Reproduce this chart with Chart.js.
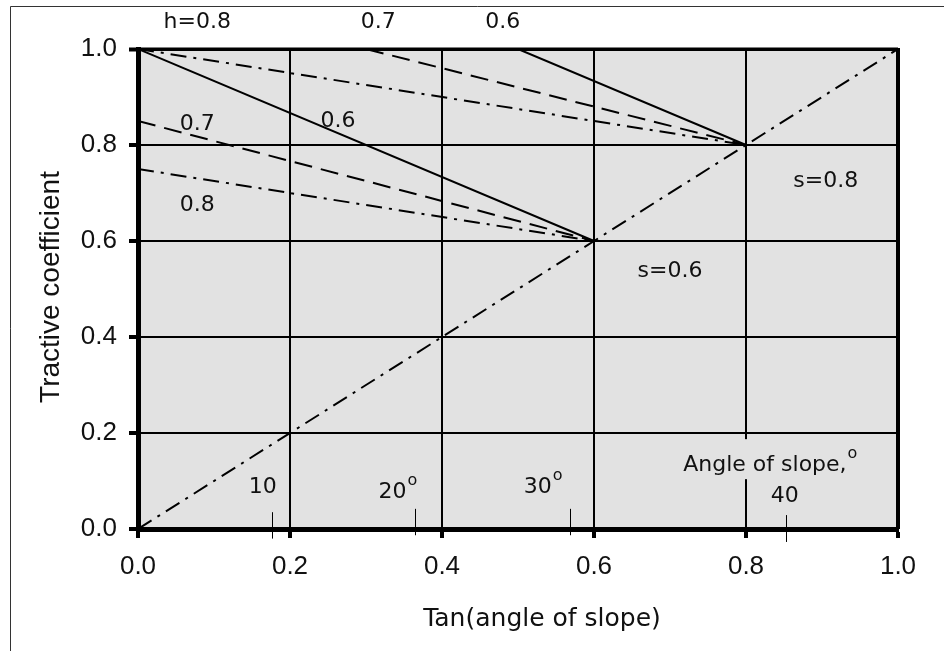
<!DOCTYPE html>
<html>
<head>
<meta charset="utf-8">
<script src="https://cdn.jsdelivr.net/npm/chart.js@4.4.1/dist/chart.umd.min.js"></script>
<style>
  body { margin: 0; background: #fff; }
  #chart { display: block; }
</style>
</head>
<body>
<canvas id="chart" width="944" height="651"></canvas>
<script>
"use strict";

// axis ticks
var xTicks = [0, 0.2, 0.4, 0.6, 0.8, 1.0];
var yTicks = [0, 0.2, 0.4, 0.6, 0.8, 1.0];

// s = tan(angle) diagonal
var diagX = [0, 1];
var diagY = [0, 1];

// lines meeting at s=0.8
var s8SolidX = [0.5, 0.8];
var s8SolidY = [1.0, 0.8];
var s8DashX = [0.3, 0.8];
var s8DashY = [1.0, 0.8];
var s8DashDotX = [0, 0.8];
var s8DashDotY = [1.0, 0.8];

// lines meeting at s=0.6
var s6SolidX = [0, 0.6];
var s6SolidY = [1.0, 0.6];
var s6DashX = [0, 0.6];
var s6DashY = [0.85, 0.6];
var s6DashDotX = [0, 0.6];
var s6DashDotY = [0.75, 0.6];

// angle of slope marks (degrees) and where they sit on the tan axis
var angleDeg = [10, 20, 30, 40];
var angleTan = [0.176, 0.364, 0.568, 0.853];
var angleLow = [-0.02, -0.013, -0.013, -0.027];
var angleHigh = [0.035, 0.042, 0.042, 0.029];

function pts(xs, ys) {
    return xs.map(function(x, i) { return { x: x, y: ys[i] }; });
}

var DASH = [18, 9];
var DASHDOT = [16, 7, 3, 7];

function line(xs, ys, dash) {
    return {
        data: pts(xs, ys),
        showLine: true,
        borderColor: '#000',
        borderWidth: 2,
        borderDash: dash,
        pointRadius: 0,
        fill: false
    };
}

// text placed in data coordinates
var notes = [
    { t: 'h=0.8', x: 0.078, y: 1.056 },
    { t: '0.7', x: 0.316, y: 1.056 },
    { t: '0.6', x: 0.48, y: 1.056 },
    { t: '0.7', x: 0.078, y: 0.844 },
    { t: '0.6', x: 0.263, y: 0.85 },
    { t: '0.8', x: 0.078, y: 0.675 },
    { t: 's=0.8', x: 0.905, y: 0.725 },
    { t: 's=0.6', x: 0.70, y: 0.5375 },
    { t: String(angleDeg[0]), x: 0.164, y: 0.0875 },
    { t: String(angleDeg[1]), x: 0.342, y: 0.077, sup: true },
    { t: String(angleDeg[2]), x: 0.533, y: 0.0875, sup: true },
    { t: 'Angle of slope,', x: 0.832, y: 0.133, sup: true, box: true },
    { t: String(angleDeg[3]), x: 0.851, y: 0.069 }
];

var PLOT_BG = '#e2e2e2';

var backdrop = {
    id: 'backdrop',
    beforeDraw: function(chart) {
        var ctx = chart.ctx, a = chart.chartArea;
        ctx.save();
        ctx.fillStyle = '#fff';
        ctx.fillRect(0, 0, chart.width, chart.height);
        ctx.fillStyle = PLOT_BG;
        ctx.fillRect(a.left, a.top, a.right - a.left, a.bottom - a.top);
        // outer frame
        ctx.strokeStyle = '#333';
        ctx.lineWidth = 1;
        ctx.beginPath();
        ctx.moveTo(10.5, chart.height);
        ctx.lineTo(10.5, 6.5);
        ctx.lineTo(chart.width, 6.5);
        ctx.stroke();
        ctx.restore();
    }
};

var overlay = {
    id: 'overlay',
    afterDraw: function(chart) {
        var ctx = chart.ctx, a = chart.chartArea;
        var xs = chart.scales.x, ys = chart.scales.y;
        ctx.save();

        // top and right frame of the plot
        ctx.strokeStyle = '#000';
        ctx.lineWidth = 3;
        ctx.beginPath();
        ctx.moveTo(a.left, a.top);
        ctx.lineTo(a.right, a.top);
        ctx.stroke();
        ctx.lineWidth = 4;
        ctx.beginPath();
        ctx.moveTo(a.right, a.top - 1);
        ctx.lineTo(a.right, a.bottom);
        ctx.stroke();

        // angle of slope marks
        ctx.lineWidth = 1;
        angleTan.forEach(function(v, i) {
            var px = Math.round(xs.getPixelForValue(v)) + 0.5;
            ctx.beginPath();
            ctx.moveTo(px, ys.getPixelForValue(angleHigh[i]));
            ctx.lineTo(px, ys.getPixelForValue(angleLow[i]));
            ctx.stroke();
        });

        // annotations
        ctx.textBaseline = 'middle';
        notes.forEach(function(n) {
            var cx = xs.getPixelForValue(n.x), cy = ys.getPixelForValue(n.y);
            ctx.font = '22px "DejaVu Sans"';
            var w = ctx.measureText(n.t).width;
            var ws = 0;
            if (n.sup) {
                ctx.font = '16px "DejaVu Sans"';
                ws = ctx.measureText('o').width + 1;
            }
            var x0 = cx - (w + ws) / 2;
            if (n.box) {
                ctx.fillStyle = PLOT_BG;
                ctx.fillRect(x0 - 4, cy - 26, w + ws + 8, 40);
            }
            ctx.fillStyle = '#111';
            ctx.textAlign = 'left';
            ctx.font = '22px "DejaVu Sans"';
            ctx.fillText(n.t, x0, cy);
            if (n.sup) {
                ctx.font = '16px "DejaVu Sans"';
                ctx.fillText('o', x0 + w + 1, cy - 11);
            }
        });

        // axis titles
        ctx.fillStyle = '#111';
        ctx.textAlign = 'center';
        ctx.font = '25px "DejaVu Sans"';
        ctx.fillText('Tan(angle of slope)', 542, 619);
        ctx.translate(51, 287);
        ctx.rotate(-Math.PI / 2);
        ctx.font = '28px "Liberation Sans"';
        ctx.fillText('Tractive coefficient', 0, 0);
        ctx.restore();
    }
};

var tickFont = { family: '"Liberation Sans", Arial, sans-serif', size: 26 };

new Chart(document.getElementById('chart'), {
    type: 'scatter',
    data: {
        datasets: [
            line(diagX, diagY, DASHDOT),
            line(s8SolidX, s8SolidY, []),
            line(s8DashX, s8DashY, DASH),
            line(s8DashDotX, s8DashDotY, DASHDOT),
            line(s6SolidX, s6SolidY, []),
            line(s6DashX, s6DashY, DASH),
            line(s6DashDotX, s6DashDotY, DASHDOT)
        ]
    },
    options: {
        responsive: false,
        animation: false,
        events: [],
        layout: { padding: { left: 0, top: 49, right: 46, bottom: 0 } },
        plugins: { legend: { display: false }, tooltip: { enabled: false } },
        scales: {
            x: {
                type: 'linear',
                min: 0,
                max: 1,
                afterBuildTicks: function(s) { s.ticks = xTicks.map(function(v) { return { value: v }; }); },
                afterFit: function(s) { s.height = 122; },
                ticks: {
                    color: '#111',
                    font: tickFont,
                    padding: 13,
                    maxRotation: 0,
                    callback: function(v) { return v.toFixed(1); }
                },
                grid: {
                    color: '#000',
                    lineWidth: function(c) { return c.tick && c.tick.value === 1 ? 4 : 2; },
                    tickLength: 9,
                    tickWidth: 4,
                    tickColor: '#000'
                },
                border: { display: true, color: '#000', width: 5 }
            },
            y: {
                type: 'linear',
                min: 0,
                max: 1,
                afterBuildTicks: function(s) { s.ticks = yTicks.map(function(v) { return { value: v }; }); },
                afterFit: function(s) { s.width = 138; },
                ticks: {
                    color: '#111',
                    font: tickFont,
                    padding: 12,
                    callback: function(v) { return v.toFixed(1); }
                },
                grid: {
                    color: '#000',
                    lineWidth: function(c) { return c.tick && c.tick.value === 1 ? 3 : 2; },
                    tickLength: 9,
                    tickWidth: 4,
                    tickColor: '#000'
                },
                border: { display: true, color: '#000', width: 5 }
            }
        }
    },
    plugins: [backdrop, overlay]
});
</script>
</body>
</html>
